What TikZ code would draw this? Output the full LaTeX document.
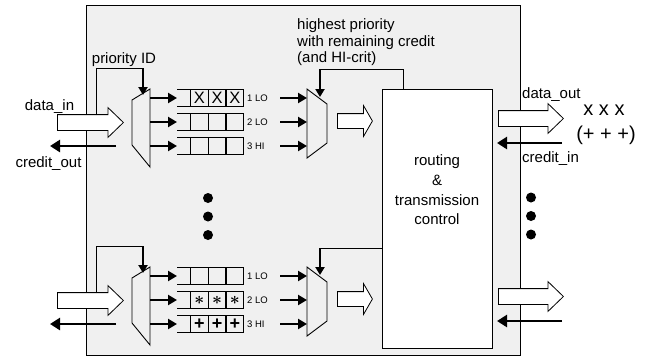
\documentclass[tikz,border=0pt]{standalone}
\usepackage{fontspec}
\setmainfont{Liberation Sans}
\usetikzlibrary{shapes.arrows,arrows.meta,positioning}

\definecolor{panel}{gray}{0.94}

\tikzset{
  hollow/.style={single arrow, draw, fill=white, line width=0.8pt, inner xsep=0pt, inner ysep=7.5pt,
    single arrow head extend=7pt, single arrow tip angle=88, anchor=tail},
  fat/.style={line width=2.2pt, -{Triangle[length=9pt,width=10pt]}},
  credit/.style={line width=2.6pt, -{Triangle[length=10pt,width=12pt]}},
  sel/.style={line width=2pt, -{Triangle[length=8pt,width=9pt]}},
  wire/.style={line width=0.9pt},
  mux/.style={line width=0.9pt},
  qline/.style={line width=1.1pt},
  cell/.style={draw, line width=1.1pt, minimum width=17.7pt, minimum height=17pt, inner sep=0pt, anchor=west},
  flit/.style={inner sep=0pt, font=\fontsize{16.5}{16.5}\selectfont},
  star/.style={inner sep=0pt, font=\fontsize{19}{19}\selectfont\boldmath},
  plus/.style={inner sep=0pt, font=\fontsize{18}{18}\selectfont\bfseries},
  qlabel/.style={anchor=west, inner sep=0pt, font=\fontsize{9.5}{10}\selectfont},
  lbl/.style={inner sep=0pt, font=\fontsize{15}{16.5}\selectfont},
  big/.style={inner sep=0pt, font=\fontsize{20}{22}\selectfont},
  dot/.style={circle, fill, inner sep=0pt, minimum size=10pt},
}

\begin{document}
\begin{tikzpicture}[x=1pt,y=-1pt]
\useasboundingbox (0,0) rectangle (652,360);

\draw[fill=panel, line width=1pt] (86,5) rectangle (520,355);
\node[draw, fill=white, line width=0.9pt, minimum width=110pt, minimum height=259pt, inner sep=0pt] (route) at (437,218.5) {};
\node[lbl, align=center, font=\fontsize{15}{19.7}\selectfont] (routetxt) at (437,190) {routing\\\&\\transmission\\control};

% one input port and one output port per block
\foreach \b/\dy in {t/0, b/178} {
\begin{scope}[yshift=-\dy pt]
  \node[hollow, minimum height=66pt] (\b-din) at (57,122.5) {};
  \coordinate (\b-crin) at (116,146);
  \coordinate (\b-crout) at (50,146);
  \draw[credit] (\b-crin) -- (\b-crout);

  % demux
  \draw[mux] (132,100) coordinate (\b-dm1) -- (150,89) coordinate (\b-dm2)
    -- (150,167) coordinate (\b-dm3) -- (132,145) coordinate (\b-dm4) -- cycle;
  \coordinate (\b-s0) at (96,115);
  \coordinate (\b-s1) at (96,68);
  \coordinate (\b-s2) at (143,68);
  \coordinate (\b-s3) at (143,95);
  \draw[wire] (\b-s0) -- (\b-s1) -- (\b-s2);
  \draw[sel] (\b-s2) -- (\b-s3);

  % queues
  \foreach \q/\qy/\ql in {1/98/1 LO, 2/122/2 LO, 3/146/3 HI} {
    \coordinate (\b-qin\q) at (177,\qy);
    \draw[fat] (\b-dm2 |- \b-qin\q) -- (\b-qin\q);
    \draw[qline] (177,\qy-8.5) -- (243,\qy-8.5) (177,\qy+8.5) -- (243,\qy+8.5);
    \foreach \k in {0,1,2} \node[cell] (\b-q\q-\k) at (190+17.7*\k,\qy) {};
    \node[qlabel] (\b-ql\q) at (247,\qy) {\ql};
    \coordinate (\b-arb\q) at (280,\qy);
    \coordinate (\b-mi\q) at (307,\qy);
    \draw[fat] (\b-arb\q) -- (\b-mi\q);
  }

  % arbiter
  \draw[mux] (307,89) coordinate (\b-am1) -- (327,104) coordinate (\b-am2)
    -- (327,143) coordinate (\b-am3) -- (307,158) coordinate (\b-am4) -- cycle;
  \node[hollow, minimum height=35pt, inner ysep=7pt, single arrow head extend=8pt,
    single arrow tip angle=120] (\b-fwd) at (337,121) {};

  % output port
  \node[hollow, minimum height=65pt] (\b-dout) at (498,118.5) {};
  \coordinate (\b-ciin) at (562,143);
  \coordinate (\b-ciout) at (497,143);
  \draw[credit] (\b-ciin) -- (\b-ciout);
\end{scope}
}

% queue contents
\node[flit] (tx0) at (t-q1-0) {X};
\node[flit] (tx1) at (t-q1-1) {X};
\node[flit] (tx2) at (t-q1-2) {X};
\node[star] (ba0) at (b-q2-0) {$\ast$};
\node[star] (ba1) at (b-q2-1) {$\ast$};
\node[star] (ba2) at (b-q2-2) {$\ast$};
\node[plus] (bp0) at (b-q3-0) {+};
\node[plus] (bp1) at (b-q3-1) {+};
\node[plus] (bp2) at (b-q3-2) {+};

% arbiter select from routing
\coordinate (ta0) at (403,89);
\coordinate (ta1) at (403,69);
\coordinate (ta2) at (320,69);
\coordinate (ta3) at (320,97);
\draw[wire] (ta0) -- (ta1) -- (ta2);
\draw[sel] (ta2) -- (ta3);
\coordinate (bs0) at (382,248);
\coordinate (bs1) at (320,248);
\coordinate (bs2) at (320,275);
\draw[wire] (bs0) -- (bs1);
\draw[sel] (bs1) -- (bs2);

\node[dot] (ldot1) at (208,198) {};
\node[dot] (ldot2) at (208,216.5) {};
\node[dot] (ldot3) at (208,235) {};
\node[dot] (rdot1) at (531,197.5) {};
\node[dot] (rdot2) at (531,216) {};
\node[dot] (rdot3) at (531,234.5) {};

\node[lbl, anchor=base] (pid) at (124,63) {priority ID};
\node[lbl, anchor=base] (din) at (49.5,110) {data\_in};
\node[lbl, anchor=base] (cout) at (48.5,167.5) {credit\_out};
\node[lbl, anchor=base west] (dout) at (522,98.5) {data\_out};
\node[lbl, anchor=base west] (cin) at (522,162) {credit\_in};
\node[big, anchor=base] (xs) at (604,115) {x x x};
\node[big, anchor=base] (ps) at (606,140.5) {(+ + +)};
\node[lbl, align=left, anchor=north west] (hp) at (297,18.5) {highest priority\\with remaining credit\\(and HI-crit)};
\end{tikzpicture}
\end{document}
